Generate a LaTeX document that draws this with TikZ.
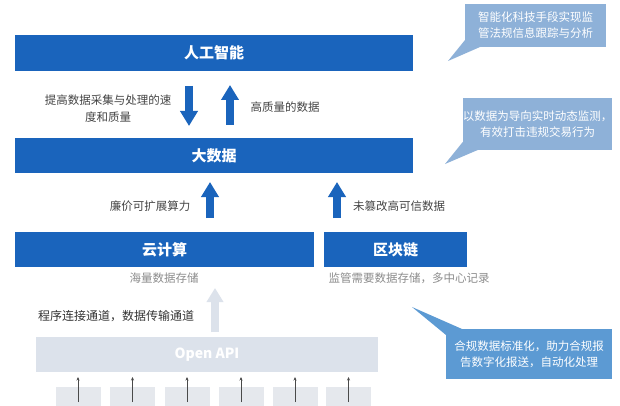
\documentclass[tikz,border=0pt]{standalone}
\usepackage{fontspec}
\setmainfont{Noto Sans CJK SC}
\usetikzlibrary{arrows.meta,calc}
\definecolor{barblue}{HTML}{1A64BC}
\definecolor{calloutA}{HTML}{8EB1D8}
\definecolor{calloutB}{HTML}{5C9AD3}
\definecolor{apifill}{HTML}{DCE2EB}
\definecolor{boxfill}{HTML}{E5E8ED}
\definecolor{labelgray}{HTML}{444444}
\definecolor{softgray}{HTML}{8C8C8C}
\definecolor{thingray}{HTML}{4A4A4A}
\begin{document}
\begin{tikzpicture}[x=1pt,y=-1pt,
  bar/.style={fill=barblue,text=white,font=\fontsize{15}{18}\selectfont\bfseries,inner sep=0pt,outer sep=0pt},
  apibar/.style={fill=apifill,text=white,font=\fontsize{14}{17}\selectfont\bfseries,inner sep=0pt,outer sep=0pt},
  smallbox/.style={fill=boxfill,inner sep=0pt,outer sep=0pt,minimum width=45pt,minimum height=22pt},
  lbl/.style={text=labelgray,font=\fontsize{11.5}{17}\selectfont,align=center,inner sep=0pt},
  softlbl/.style={text=softgray,font=\fontsize{11.5}{17}\selectfont,inner sep=0pt},
  darklbl/.style={text=black!80,font=\fontsize{12}{17}\selectfont,inner sep=0pt},
  callbox/.style={text=white,font=\fontsize{11.5}{16}\selectfont,align=center,inner sep=0pt,outer sep=0pt},
  bigarrow/.style={line width=8pt,draw=barblue,-{Triangle[width=17pt,length=15pt]}},
  lightarrow/.style={line width=8pt,draw=apifill,-{Triangle[width=16pt,length=14pt]}},
  thinarrow/.style={draw=thingray,line width=0.8pt,-{Stealth[length=3.5pt,width=3pt]},shorten >=5pt}
]
\useasboundingbox (0,0) rectangle (620,406);
\fill[white] (0,0) rectangle (620,406);

% main bars
\node[bar,minimum width=398pt,minimum height=36pt] (ai) at (214,53) {人工智能};
\node[bar,minimum width=398pt,minimum height=35pt] (bd) at (214,155.5) {大数据};
\node[bar,minimum width=299pt,minimum height=35pt] (cloud) at (164.5,249.5) {云计算};
\node[bar,minimum width=143pt,minimum height=35pt] (chain) at (395.5,249.5) {区块链};
\node[apibar,minimum width=342pt,minimum height=35pt] (api) at (207,354.5) {Open API};

% small source boxes
\foreach \i/\x in {1/78,2/132.5,3/187,4/241,5/295,6/348.5}{
  \node[smallbox] (b\i) at (\x,398) {};
  \coordinate (s\i) at (\x,402);
  \draw[thinarrow] (s\i) -- (s\i |- api.south);
}

% arrow end points
\coordinate (d1s) at (189,86);  \coordinate (d1e) at (189,126);
\coordinate (u1s) at (230,125); \coordinate (u1e) at (230,85);
\coordinate (u2s) at (210,218); \coordinate (u2e) at (210,182);
\coordinate (u3s) at (337,218); \coordinate (u3e) at (337,182);
\coordinate (u4s) at (215,332); \coordinate (u4e) at (215,288);

\draw[bigarrow] (d1s) -- (d1e);
\draw[bigarrow] (u1s) -- (u1e);
\draw[bigarrow] (u2s) -- (u2e);
\draw[bigarrow] (u3s) -- (u3e);
\draw[lightarrow] (u4s) -- (u4e);

% labels
\node[lbl] (l1) at (108,108.5) {提高数据采集与处理的速\\度和质量};
\node[lbl] (l2) at (285,107) {高质量的数据};
\node[lbl] (l3) at (150,206) {廉价可扩展算力};
\node[lbl] (l4) at (399,206) {未篡改高可信数据};
\node[softlbl] (l5) at (164,278) {海量数据存储};
\node[softlbl] (l6) at (409,278) {监管需要数据存储，多中心记录};
\node[darklbl] (l7) at (116,316) {程序连接通道，数据传输通道};

% callouts
\node[callbox,fill=calloutA,minimum width=141pt,minimum height=43pt] (c1) at (535.5,25.5) {智能化科技手段实现监\\管法规信息跟踪与分析};
\fill[calloutA] ($(c1.south west)+(0,-7)$) -- ($(c1.south west)+(15,0)$) -- (448,61) -- cycle;

\node[callbox,fill=calloutA,minimum width=149pt,minimum height=52pt] (c2) at (537.5,124) {以数据为导向实时动态监测，\\有效打击违规交易行为};
\fill[calloutA] ($(c2.south west)+(0,-8)$) -- ($(c2.south west)+(15,0)$) -- (445,164) -- cycle;

\node[callbox,fill=calloutB,minimum width=166pt,minimum height=50pt] (c3) at (529,354) {合规数据标准化，助力合规报\\告数字化报送，自动化处理};
\fill[calloutB] ($(c3.north west)+(0,6)$) -- ($(c3.north west)+(16,0)$) -- (412,307) -- cycle;
\end{tikzpicture}
\end{document}
